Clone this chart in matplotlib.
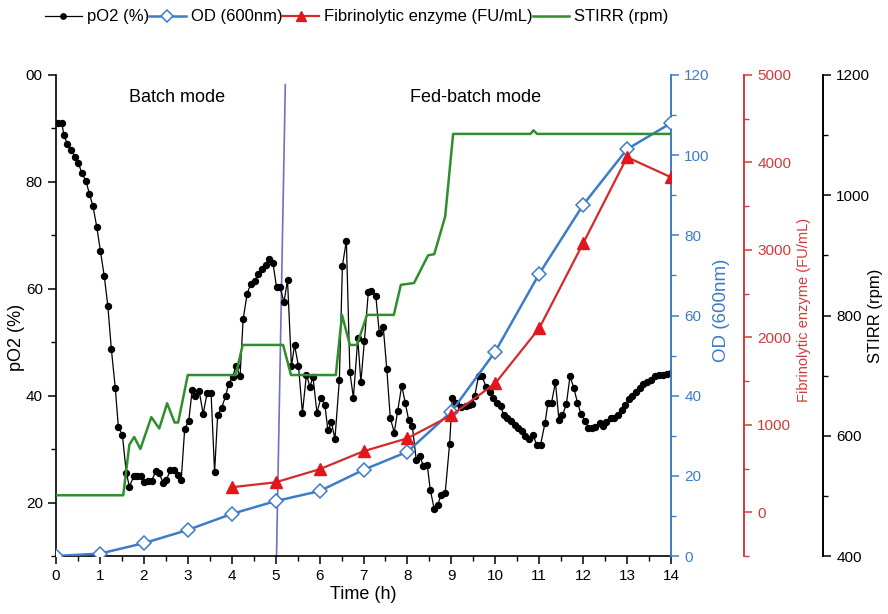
import matplotlib
matplotlib.use("Agg")
import matplotlib.pyplot as plt
from matplotlib.ticker import MultipleLocator, FixedLocator, FixedFormatter

plt.rcParams['font.family'] = ['Liberation Sans', 'DejaVu Sans']

# ---------------- data ----------------
po2_t = [0.05, 0.13, 0.18, 0.26, 0.34, 0.43, 0.51, 0.59, 0.68, 0.76, 0.84, 0.93, 1.01, 1.10, 1.18,
         1.26, 1.35, 1.42, 1.51, 1.60, 1.67, 1.77, 1.84, 1.93, 2.01, 2.09, 2.18, 2.27, 2.34, 2.44,
         2.51, 2.60, 2.68, 2.77, 2.85, 2.93, 3.02, 3.10, 3.17, 3.26, 3.35, 3.44, 3.53, 3.61, 3.68,
         3.77, 3.86, 3.93, 4.02, 4.10, 4.19, 4.26, 4.35, 4.43, 4.52, 4.60, 4.68, 4.77, 4.85, 4.94,
         5.02, 5.10, 5.19, 5.27, 5.36, 5.43, 5.52, 5.61, 5.70, 5.78, 5.85, 5.94, 6.03, 6.12, 6.19,
         6.27, 6.35, 6.45, 6.52, 6.61, 6.69, 6.77, 6.87, 6.94, 7.02, 7.11, 7.18, 7.28, 7.36, 7.45,
         7.53, 7.61, 7.70, 7.78, 7.87, 7.95, 8.03, 8.11, 8.20, 8.28, 8.36, 8.45, 8.52, 8.61, 8.69,
         8.77, 8.86, 8.96, 9.02, 9.11, 9.22, 9.34, 9.41, 9.48, 9.53, 9.62, 9.70, 9.79, 9.87, 9.95,
         10.04, 10.12, 10.19, 10.27, 10.35, 10.44, 10.52, 10.61, 10.68, 10.77, 10.86, 10.94, 11.03,
         11.13, 11.20, 11.28, 11.37, 11.45, 11.53, 11.62, 11.70, 11.79, 11.87, 11.95, 12.04, 12.12,
         12.21, 12.28, 12.38, 12.46, 12.53, 12.63, 12.71, 12.80, 12.88, 12.95, 13.04, 13.12, 13.20,
         13.29, 13.37, 13.46, 13.54, 13.64, 13.72, 13.81, 13.90, 14.00]
po2_v = [91.1, 91.1, 88.7, 87.1, 86.0, 84.7, 83.5, 81.6, 80.2, 77.8, 75.5, 71.5, 67.1, 62.3, 56.8,
         48.7, 41.4, 34.1, 32.7, 25.6, 23.0, 24.9, 25.0, 24.9, 23.8, 24.0, 24.1, 25.9, 25.6, 23.7,
         24.2, 26.0, 26.0, 25.2, 24.2, 33.8, 35.2, 41.0, 40.0, 40.8, 36.6, 40.5, 40.5, 25.7, 36.4,
         37.7, 39.9, 42.2, 43.5, 45.6, 43.6, 54.3, 59.0, 60.9, 61.4, 62.8, 63.7, 64.4, 65.6, 64.8,
         60.3, 60.3, 57.5, 61.6, 45.5, 49.5, 45.5, 36.8, 43.9, 41.7, 43.5, 36.8, 39.6, 38.3, 33.5,
         35.0, 31.9, 42.9, 64.3, 69.0, 44.4, 39.6, 50.7, 42.5, 50.2, 59.4, 59.5, 58.7, 51.7, 52.8,
         45.0, 35.8, 33.1, 37.2, 41.9, 38.6, 35.4, 34.4, 28.0, 28.8, 26.9, 27.1, 22.4, 18.8, 19.6,
         21.5, 21.8, 31.0, 39.5, 38.7, 37.9, 38.0, 38.3, 38.5, 39.9, 43.7, 43.6, 41.7, 40.6, 39.6,
         38.6, 38.1, 36.4, 35.8, 35.2, 34.6, 34.0, 33.3, 32.5, 31.9, 32.7, 30.8, 30.8,
         34.8, 38.7, 38.7, 42.5, 35.4, 36.3, 38.5, 43.6, 41.4, 38.7, 36.6, 35.3, 34.0,
         34.0, 34.1, 34.8, 34.4, 35.0, 35.8, 35.9, 36.4, 37.3, 38.3, 39.3, 40.0, 40.6,
         41.4, 42.1, 42.5, 42.9, 43.6, 43.8, 43.8, 44.1, 44.3]

time_h = [0, 1, 2, 3, 4, 5, 6, 7, 8, 9, 10, 11, 12, 13, 14]
od_v = [0.0, 0.6, 3.2, 6.5, 10.5, 13.7, 16.2, 21.5, 26.0, 36.0, 51.0, 70.4, 87.6, 101.5, 108.0]

enz_t = [4, 5, 6, 7, 8, 9, 10, 11, 12, 13, 14]
enz_v = [286, 343, 492, 698, 846, 1109, 1475, 2104, 3076, 4060, 3831]

stirr_t = [0.0, 1.53, 1.67, 1.78, 1.92, 2.17, 2.35, 2.53, 2.70, 2.78, 3.00, 4.09, 4.25, 5.17,
           5.35, 6.37, 6.51, 6.69, 6.85, 7.08, 7.69, 7.85, 8.15, 8.47, 8.61, 8.77, 8.86, 9.04,
           10.80, 10.87, 10.95, 14.0]
stirr_v = [501, 501, 585, 598, 578, 631, 612, 654, 622, 622, 701, 701, 751, 751,
           701, 701, 801, 751, 751, 801, 801, 851, 854, 900, 902, 942, 965, 1102,
           1102, 1108, 1102, 1102]

boundary_t = [5.02, 5.22]
boundary_p = [10, 98.2]

po2_ticks = [20, 40, 60, 80, 100]
po2_ticklabels = ["20", "40", "60", "80", "00"]

# ---------------- style ----------------
BLUE = '#3d7cc9'
RED = '#e3161c'
REDAX = '#d23a3a'
GREEN = '#2f8f2f'
PX = 72 / 100.0   # pixels -> points

fig = plt.figure(figsize=(8.88, 6.14), dpi=100)
ax = fig.add_axes([56/888, 1-556/614, (671-56)/888, (556-75)/614])

ax_od = ax.twinx()
ax_en = ax.twinx()
ax_st = ax.twinx()

# pO2
l_po2, = ax.plot(po2_t, po2_v, '-', color='black', lw=0.9, marker='o', ms=4.3,
                 mfc='black', mec='black', label='pO2 (%)', zorder=3)
ax.plot(boundary_t, boundary_p, '-', color='#6f6fc8', lw=1.2, zorder=2)
ax.set_xlim(0, 14)
ax.set_ylim(10, 100)
ax.xaxis.set_major_locator(MultipleLocator(1))
ax.xaxis.set_minor_locator(MultipleLocator(0.5))
ax.yaxis.set_major_locator(FixedLocator(po2_ticks))
ax.yaxis.set_major_formatter(FixedFormatter(po2_ticklabels))
ax.yaxis.set_minor_locator(MultipleLocator(10))
ax.tick_params(axis='both', which='major', length=6, width=1.1, labelsize=11, direction='out')
ax.tick_params(axis='both', which='minor', length=3.5, width=1.0, direction='out')
ax.spines['top'].set_visible(False)
ax.spines['right'].set_visible(False)
for s in ['left', 'bottom']:
    ax.spines[s].set_linewidth(1.2)
ax.set_xlabel('Time (h)', fontsize=13, labelpad=2)
ax.set_ylabel('pO2 (%)', fontsize=13)
ax.yaxis.set_label_coords(-0.050, 0.455)

ax.text(2.75, 95.8, 'Batch mode', fontsize=13, ha='center', va='center')
ax.text(9.55, 95.8, 'Fed-batch mode', fontsize=13, ha='center', va='center')

# OD
l_od, = ax_od.plot(time_h, od_v, '-', color=BLUE, lw=1.8, marker='D', ms=7,
                   mfc='white', mec=BLUE, mew=1.1, label='OD (600nm)', zorder=4)
ax_od.set_ylim(0, 120)
ax_od.yaxis.set_major_locator(MultipleLocator(20))
ax_od.yaxis.set_minor_locator(MultipleLocator(10))

# enzyme
l_en, = ax_en.plot(enz_t, enz_v, '-', color='#d42a2a', lw=1.6, marker='^', ms=8.5,
                   mfc=RED, mec=RED, label='Fibrinolytic enzyme (FU/mL)', zorder=5)
ax_en.set_ylim(-500, 5000)
ax_en.yaxis.set_major_locator(FixedLocator([0, 1000, 2000, 3000, 4000, 5000]))
ax_en.yaxis.set_minor_locator(FixedLocator([-500, 500, 1500, 2500, 3500, 4500]))
ax_en.spines['right'].set_position(('outward', 73 * PX))

# STIRR
l_st, = ax_st.plot(stirr_t, stirr_v, '-', color=GREEN, lw=1.8, label='STIRR (rpm)', zorder=3)
ax_st.set_ylim(400, 1200)
ax_st.yaxis.set_major_locator(MultipleLocator(200))
ax_st.yaxis.set_minor_locator(MultipleLocator(100))
ax_st.spines['right'].set_position(('outward', 152 * PX))

for a, col, tcol in [(ax_od, BLUE, BLUE), (ax_en, REDAX, REDAX), (ax_st, 'black', 'black')]:
    for s in ['top', 'left', 'bottom']:
        a.spines[s].set_visible(False)
    a.spines['right'].set_color(col)
    a.spines['right'].set_linewidth(1.4)
    a.tick_params(axis='y', which='major', length=6, width=1.1, colors=col,
                  labelcolor=tcol, labelsize=11, direction='out')
    a.tick_params(axis='y', which='minor', length=3.5, width=1.0, colors=col, direction='out')

ax_od.set_ylabel('OD (600nm)', color=BLUE, fontsize=13.5)
ax_od.yaxis.set_label_coords(1.068, 0.511)
ax_en.set_ylabel('Fibrinolytic enzyme (FU/mL)', color=REDAX, fontsize=10.5)
ax_en.yaxis.set_label_coords(1.205, 0.511)
ax_st.set_ylabel('STIRR (rpm)', color='black', fontsize=12)
ax_st.yaxis.set_label_coords(1.320, 0.50)

# legend
fig.legend(handles=[l_po2, l_od, l_en, l_st], loc='center left',
           bbox_to_anchor=(45/888, 1-17/614), ncol=4, frameon=False, fontsize=12,
           handlelength=2.2, handletextpad=0.3, columnspacing=0.0, borderpad=0,
           borderaxespad=0, markerscale=0.9)

fig.savefig('out.png', dpi=100)
